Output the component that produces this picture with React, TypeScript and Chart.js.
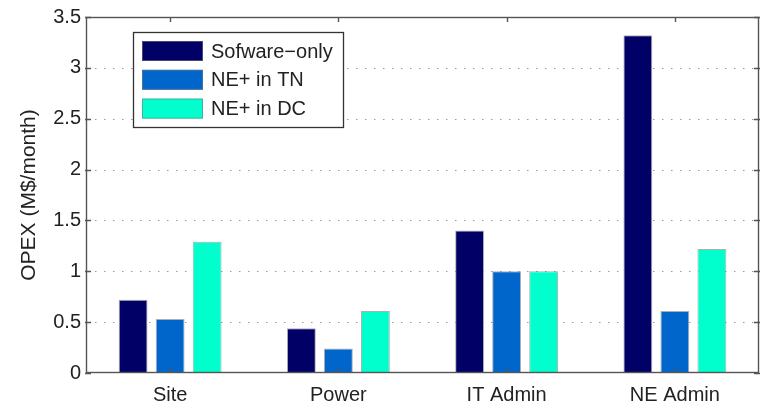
import React, { useEffect, useRef } from "react";
import { Chart, registerables } from "chart.js";

Chart.register(...registerables);

const categories = ["Site", "Power", "IT Admin", "NE Admin"];
const seriesNames = ["Sofware\u2212only", "NE+ in TN", "NE+ in DC"];
const softwareOnly = [0.72, 0.44, 1.4, 3.32];
const nePlusTN = [0.53, 0.24, 1.0, 0.61];
const nePlusDC = [1.29, 0.61, 1.0, 1.22];
const yTickValues = [0, 0.5, 1, 1.5, 2, 2.5, 3, 3.5];
const seriesColors = ["#000066", "#0066cc", "#00ffcc"];

const FONT = "'Liberation Sans', Arial, Helvetica, sans-serif";
const TEXT = "#222222";
const FRAME = "#555555";

const framePlugin = {
  id: "matlabFrame",
  beforeDatasetsDraw(chart: any) {
    const { ctx, chartArea } = chart;
    const y = chart.scales.y;
    ctx.save();
    ctx.strokeStyle = "#9a9a9a";
    ctx.lineWidth = 1.2;
    ctx.setLineDash([1.5, 7.5]);
    yTickValues.forEach((v) => {
      if (v <= 0 || v >= 3.5) return;
      const py = Math.round(y.getPixelForValue(v)) + 0.5;
      ctx.beginPath();
      ctx.moveTo(chartArea.left, py);
      ctx.lineTo(chartArea.right, py);
      ctx.stroke();
    });
    ctx.restore();
  },
  afterDatasetsDraw(chart: any) {
    const { ctx, chartArea } = chart;
    const { left, right, top, bottom } = chartArea;
    const x = chart.scales.x;
    const y = chart.scales.y;
    const tl = 5;
    ctx.save();
    ctx.strokeStyle = FRAME;
    ctx.lineWidth = 1.4;
    ctx.setLineDash([]);
    ctx.strokeRect(left + 0.5, top + 0.5, right - left - 1, bottom - top - 1);
    ctx.beginPath();
    yTickValues.forEach((v) => {
      const py = Math.round(y.getPixelForValue(v)) + 0.5;
      ctx.moveTo(left - 1, py);
      ctx.lineTo(left + tl, py);
      ctx.moveTo(right + 1, py);
      ctx.lineTo(right - tl, py);
    });
    categories.forEach((_, i) => {
      const px = Math.round(x.getPixelForValue(i)) + 0.5;
      ctx.moveTo(px, top);
      ctx.lineTo(px, top + tl);
      ctx.moveTo(px, bottom);
      ctx.lineTo(px, bottom - tl);
    });
    ctx.stroke();
    ctx.restore();
  },
  afterDraw(chart: any) {
    const { ctx } = chart;
    const bx = 133, by = 32, bw = 210, bh = 95;
    ctx.save();
    ctx.fillStyle = "#ffffff";
    ctx.fillRect(bx, by, bw, bh);
    ctx.strokeStyle = "#333333";
    ctx.lineWidth = 1.3;
    ctx.strokeRect(bx + 0.5, by + 0.5, bw, bh);
    ctx.font = `20px ${FONT}`;
    ctx.textBaseline = "middle";
    ctx.textAlign = "left";
    chart.data.datasets.forEach((ds: any, i: number) => {
      const cy = 51 + i * 28.8;
      ctx.fillStyle = ds.backgroundColor;
      ctx.fillRect(142, cy - 10, 61, 20);
      ctx.strokeStyle = "rgba(120,120,120,0.6)";
      ctx.lineWidth = 1;
      ctx.strokeRect(142.5, cy - 9.5, 60, 19);
      ctx.fillStyle = TEXT;
      ctx.fillText(ds.label, 211, cy + 1);
    });
    ctx.restore();
  },
};

export default function App() {
  const canvasRef = useRef<HTMLCanvasElement | null>(null);

  useEffect(() => {
    document.body.style.margin = "0";
    const canvas = canvasRef.current;
    if (!canvas) return;
    const values = [softwareOnly, nePlusTN, nePlusDC];
    const chart = new Chart(canvas, {
      type: "bar",
      data: {
        labels: categories,
        datasets: seriesNames.map((name, i) => ({
          label: name,
          data: values[i],
          backgroundColor: seriesColors[i],
          borderColor: "rgba(120,120,120,0.6)",
          borderWidth: 1,
          categoryPercentage: 0.66,
          barPercentage: 0.78,
        })),
      },
      options: {
        responsive: false,
        animation: false,
        devicePixelRatio: 1,
        layout: { padding: { top: 16, right: 6, left: 0, bottom: 0 } },
        plugins: {
          legend: { display: false },
          tooltip: { enabled: false },
        },
        scales: {
          x: {
            grid: { display: false, drawTicks: false },
            border: { display: false },
            ticks: {
              font: { family: FONT, size: 20 },
              color: TEXT,
              padding: 10,
              maxRotation: 0,
            },
            afterFit(scale: any) {
              scale.height = 35;
            },
          },
          y: {
            min: 0,
            max: 3.5,
            grid: { display: false, drawTicks: false },
            border: { display: false },
            afterBuildTicks(scale: any) {
              scale.ticks = yTickValues.map((v) => ({ value: v }));
            },
            ticks: {
              font: { family: FONT, size: 20 },
              color: TEXT,
              padding: 5,
              callback: (v: any) => String(v),
            },
            title: {
              display: true,
              text: "OPEX (M$/month)",
              font: { family: FONT, size: 21 },
              color: TEXT,
              padding: { top: 17, bottom: 0 },
            },
            afterFit(scale: any) {
              scale.width = 86;
            },
          },
        },
      },
      plugins: [framePlugin],
    });
    return () => chart.destroy();
  }, []);

  return (
    <div style={{ width: 765, height: 408 }}>
      <canvas ref={canvasRef} width={765} height={408} />
    </div>
  );
}
